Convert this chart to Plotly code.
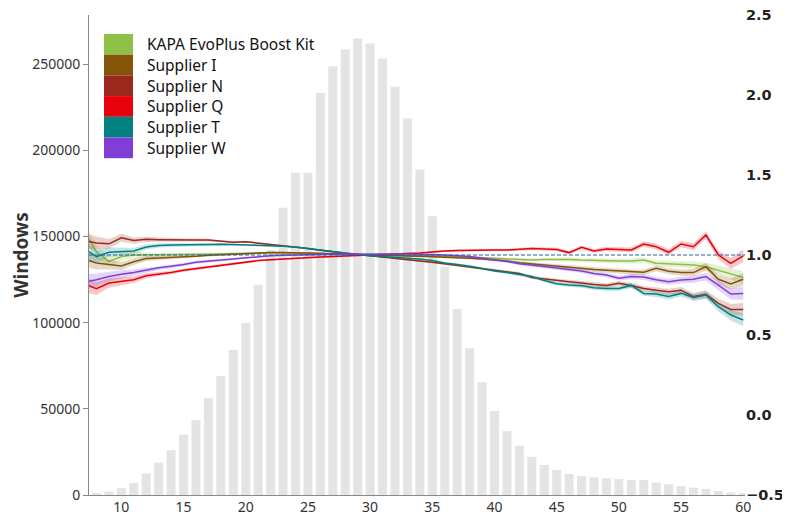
import plotly.graph_objects as go
from plotly.subplots import make_subplots

# histogram of windows per GC bin (left axis)
bar_x = list(range(8, 61))
windows = [
    1000, 2000, 4000, 7000, 12500, 18700, 26000, 35000, 43500, 56300,
    69000, 84100, 99800, 122000, 142100, 166600, 187000, 187000, 233300, 248800,
    258500, 264900, 262000, 253300, 236800, 218500, 188900, 161800, 132400, 107900,
    85100, 65400, 48700, 37100, 28600, 22200, 17400, 14500, 12200, 11000,
    10200, 9700, 9300, 8700, 8700, 7200, 6200, 5200, 4300, 3500,
    2300, 1400, 600,
]

# normalized coverage per supplier (right axis), x = 7..60
line_x = list(range(7, 61))
kapa = [
    1.15, 1.02, 0.96, 0.99, 1.0, 1.0, 1.0, 1.002, 1.003, 1.004,
    1.005, 1.007, 1.01, 1.012, 1.014, 1.015, 1.014, 1.012, 1.01, 1.008,
    1.006, 1.004, 1.002, 1.0, 0.999, 0.998, 0.997, 0.996, 0.995, 0.993,
    0.99, 0.987, 0.983, 0.979, 0.975, 0.972, 0.969, 0.972, 0.974, 0.972,
    0.968, 0.965, 0.963, 0.963, 0.962, 0.969, 0.948, 0.945, 0.942, 0.938,
    0.927, 0.906, 0.885, 0.86,
]
supplier_i = [
    0.975, 0.95, 0.94, 0.932, 0.958, 0.978, 0.982, 0.985, 0.987, 0.992,
    0.998, 1.002, 1.006, 1.01, 1.012, 1.015, 1.015, 1.014, 1.012, 1.01,
    1.008, 1.005, 1.002, 1.0, 0.998, 0.996, 0.994, 0.992, 0.99, 0.987,
    0.984, 0.98, 0.975, 0.97, 0.962, 0.952, 0.945, 0.935, 0.93, 0.925,
    0.917, 0.91, 0.905, 0.9, 0.893, 0.892, 0.917, 0.898, 0.89, 0.89,
    0.927, 0.848, 0.819, 0.848,
]
supplier_n = [
    1.09, 1.075, 1.07, 1.108, 1.09, 1.098, 1.096, 1.094, 1.095, 1.094,
    1.093, 1.085, 1.08, 1.083, 1.075, 1.068, 1.06, 1.05, 1.04, 1.03,
    1.02, 1.01, 1.002, 0.995, 0.988, 0.98, 0.97, 0.963, 0.955, 0.945,
    0.935, 0.925, 0.915, 0.905, 0.896, 0.885, 0.86, 0.85, 0.84, 0.833,
    0.825, 0.815, 0.81, 0.823, 0.81, 0.79, 0.78, 0.77, 0.78, 0.74,
    0.754, 0.698, 0.66, 0.66,
]
supplier_q = [
    0.82, 0.79, 0.825, 0.835, 0.845, 0.87, 0.88, 0.89, 0.905, 0.915,
    0.925, 0.935, 0.945, 0.955, 0.965, 0.97, 0.975, 0.98, 0.985, 0.988,
    0.99, 0.994, 0.998, 1.0, 1.005, 1.01, 1.01, 1.012, 1.02, 1.025,
    1.028, 1.03, 1.03, 1.031, 1.031, 1.035, 1.04, 1.038, 1.035, 1.015,
    1.048, 1.025, 1.037, 1.035, 1.031, 1.069, 1.052, 1.017, 1.069, 1.052,
    1.125, 1.0, 0.948, 0.994,
]
supplier_t = [
    1.04, 0.99, 1.017, 1.02, 1.025, 1.05, 1.06, 1.062, 1.062, 1.065,
    1.065, 1.067, 1.065, 1.065, 1.062, 1.06, 1.055, 1.05, 1.04, 1.03,
    1.02, 1.012, 1.005, 0.995, 0.99, 0.985, 0.98, 0.975, 0.965, 0.95,
    0.94, 0.93, 0.915, 0.9, 0.89, 0.878, 0.865, 0.84, 0.82, 0.812,
    0.808, 0.795, 0.79, 0.79, 0.81, 0.76, 0.756, 0.74, 0.76, 0.735,
    0.75, 0.677, 0.625, 0.594,
]
supplier_w = [
    0.83, 0.845, 0.865, 0.88, 0.89, 0.905, 0.92, 0.93, 0.94, 0.955,
    0.962, 0.968, 0.975, 0.985, 0.99, 0.995, 0.998, 1.0, 1.003, 1.005,
    1.006, 1.006, 1.005, 1.004, 1.005, 1.006, 1.006, 1.005, 1.004, 1.0,
    0.995, 0.99, 0.98, 0.97, 0.96, 0.945, 0.935, 0.925, 0.918, 0.91,
    0.9, 0.885, 0.875, 0.855, 0.865, 0.862, 0.845, 0.833, 0.844, 0.848,
    0.865, 0.812, 0.756, 0.76,
]
# half width of the shaded confidence band
band = [
    0.05, 0.04, 0.03, 0.025, 0.02, 0.016, 0.013, 0.011, 0.01, 0.009,
    0.008, 0.007, 0.007, 0.006, 0.006, 0.005, 0.005, 0.005, 0.005, 0.005,
    0.005, 0.005, 0.005, 0.005, 0.005, 0.005, 0.005, 0.005, 0.006, 0.006,
    0.006, 0.007, 0.007, 0.008, 0.008, 0.009, 0.01, 0.01, 0.011, 0.012,
    0.012, 0.013, 0.014, 0.015, 0.016, 0.017, 0.018, 0.019, 0.02, 0.022,
    0.024, 0.028, 0.034, 0.04,
]

series = [
    ('KAPA EvoPlus Boost Kit', kapa, (141, 192, 68)),
    ('Supplier I', supplier_i, (132, 84, 8)),
    ('Supplier N', supplier_n, (155, 40, 28)),
    ('Supplier Q', supplier_q, (232, 0, 10)),
    ('Supplier T', supplier_t, (0, 128, 128)),
    ('Supplier W', supplier_w, (128, 62, 214)),
]

fig = make_subplots(specs=[[{'secondary_y': True}]])
fig.add_trace(go.Bar(x=bar_x, y=windows, marker_color='#e4e4e4', marker_line_width=0,
                     showlegend=False, name='Windows'), secondary_y=False)

for name, vals, (r, g, b) in series:
    upper = [v + e for v, e in zip(vals, band)]
    lower = [v - e for v, e in zip(vals, band)]
    fig.add_trace(go.Scatter(
        x=line_x + line_x[::-1], y=upper + lower[::-1], fill='toself',
        fillcolor=f'rgba({r},{g},{b},0.22)', line_width=0, mode='lines',
        hoverinfo='skip', showlegend=False
    ), secondary_y=True)
    fig.add_trace(go.Scatter(x=line_x, y=vals, mode='lines', name=name,
                             line=dict(color=f'rgb({r},{g},{b})', width=1.5),
                             showlegend=False), secondary_y=True)

fig.add_shape(type='line', xref='x domain', x0=0, x1=1, yref='y2', y0=1, y1=1,
              line=dict(color='#1f63ab', width=1.2, dash='4px,2px'))

# hand-made legend with big colour patches
y_top, row_h = 34, 20.7
for i, (name, vals, (r, g, b)) in enumerate(series):
    t = y_top + i * row_h
    fig.add_shape(type='rect', xref='paper', yref='paper',
                  x0=15 / 656, x1=44 / 656,
                  y0=(495 - t - row_h) / 480, y1=(495 - t) / 480,
                  fillcolor=f'rgb({r},{g},{b})', line_width=0)
    fig.add_annotation(xref='paper', yref='paper', x=56 / 656, y=(495 - t - row_h / 2) / 480,
                       text=name, showarrow=False, xanchor='left', yanchor='middle',
                       font=dict(family='Noto Sans', size=15.5, color='#111'))

# right axis title, mostly cut off by the page edge (as in the source image)
fig.add_annotation(xref='paper', yref='paper', x=(784 - 89) / 656, y=(495 - 290) / 480,
                   text='Normalized Coverage', textangle=-90, showarrow=False,
                   xanchor='left', yanchor='middle',
                   font=dict(family='DejaVu Sans', size=17, color='#222', weight='bold'))

# page body has an 8px margin, so the figure is a bit smaller than the window
fig.update_layout(
    width=782, height=504,
    margin=dict(l=81, r=45, t=7, b=17),
    plot_bgcolor='white', paper_bgcolor='white',
    bargap=0.28,
    showlegend=False,
    font=dict(family='Noto Sans', color='#333'),
)
fig.update_xaxes(range=[7.4, 60.14], domain=[0, 1], tickvals=list(range(10, 61, 5)),
                 automargin=False, ticklabelstandoff=-1,
                 showline=True, linecolor='#888', linewidth=1, showgrid=False,
                 zeroline=False, ticks='', tickfont=dict(size=14, color='#333'))
fig.update_yaxes(range=[0, 278500], tickvals=list(range(0, 250001, 50000)), tickformat='d',
                 automargin=False,
                 showline=True, linecolor='#888', linewidth=1, showgrid=False, zeroline=False,
                 ticks='outside', ticklen=5, tickcolor='#888',
                 tickfont=dict(size=14, color='#333'),
                 title=dict(text='Windows', font=dict(size=19, color='#333', weight='bold'),
                            standoff=8),
                 secondary_y=False)
fig.update_yaxes(range=[-0.5, 2.5], dtick=0.5, tick0=0, tickformat='.1f', automargin=False,
                 ticklabeloverflow='allow', ticklabelstandoff=0,
                 showline=False, showgrid=False, zeroline=False,
                 ticks='',
                 tickfont=dict(family='DejaVu Sans', size=14.5, color='#222', weight='bold'),
                 secondary_y=True)

fig.write_html('out.html')
